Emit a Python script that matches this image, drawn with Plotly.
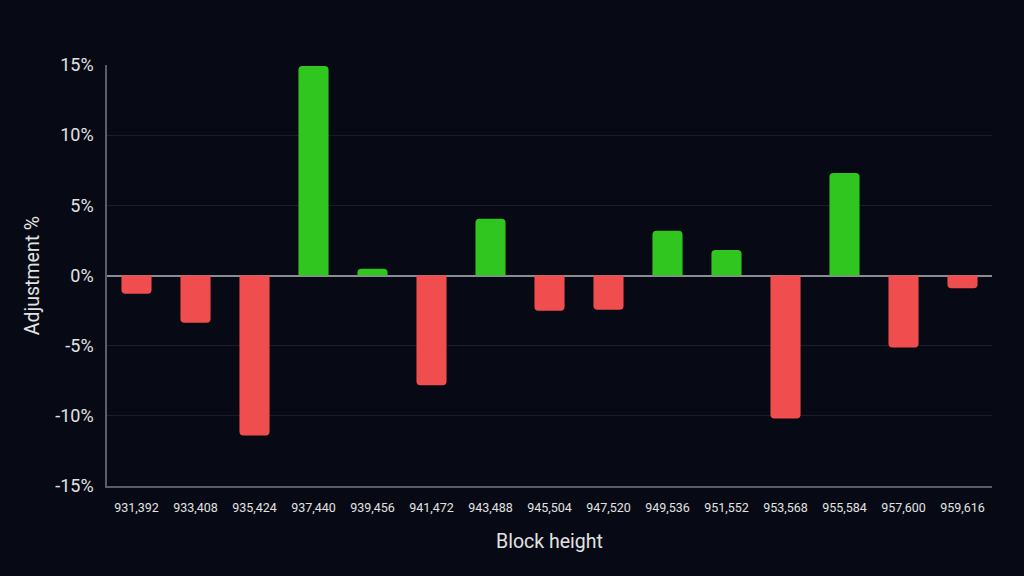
import plotly.graph_objects as go

blocks = ["931,392", "933,408", "935,424", "937,440", "939,456", "941,472", "943,488",
          "945,504", "947,520", "949,536", "951,552", "953,568", "955,584", "957,600", "959,616"]
adjust = [-1.30, -3.37, -11.40, 14.92, 0.48, -7.82, 4.04, -2.52, -2.44, 3.19, 1.81,
          -10.19, 7.30, -5.13, -0.90]
y_ticks = [-15, -10, -5, 0, 5, 10, 15]
y_tick_labels = ["-15%", "-10%", "-5%", "0%", "5%", "10%", "15%"]

GREEN = "#31C51F"
RED = "#F04E4E"
BG = "#070A14"
TEXT = "#E2E2E2"
colors = [GREEN if v >= 0 else RED for v in adjust]

fig = go.Figure(go.Bar(
    x=blocks, y=adjust,
    marker=dict(color=colors, line=dict(width=0), cornerradius=4),
    hoverinfo="x+y",
))

fig.update_layout(
    width=1024, height=576,
    paper_bgcolor=BG, plot_bgcolor=BG,
    margin=dict(l=107, r=32, t=65, b=90),
    bargap=0.49,
    showlegend=False,
    font=dict(family="Roboto, sans-serif", color=TEXT),
)
fig.update_xaxes(
    type="category",
    showgrid=False,
    showline=True, linecolor="#5A5D66", linewidth=1.5,
    ticks="", ticklabelstandoff=9,
    tickfont=dict(size=12.5, color=TEXT),
    title=dict(text="Block height", font=dict(size=19.5, color=TEXT), standoff=21),
)
fig.update_yaxes(
    range=[-15, 15],
    tickvals=y_ticks, ticktext=y_tick_labels,
    showgrid=True, gridcolor="#1A1E2A", gridwidth=1,
    zeroline=True, zerolinecolor="#8A8C92", zerolinewidth=1.5,
    showline=True, linecolor="#5A5D66", linewidth=1.5,
    ticks="", ticklabelstandoff=8,
    tickfont=dict(size=18, color=TEXT),
    title=dict(text="Adjustment %", font=dict(size=19.5, color=TEXT), standoff=10),
)

fig.write_html(
    "out.html",
    config={"displayModeBar": False},
    post_script="document.body.style.margin='0';document.body.style.background='#070A14';",
)
